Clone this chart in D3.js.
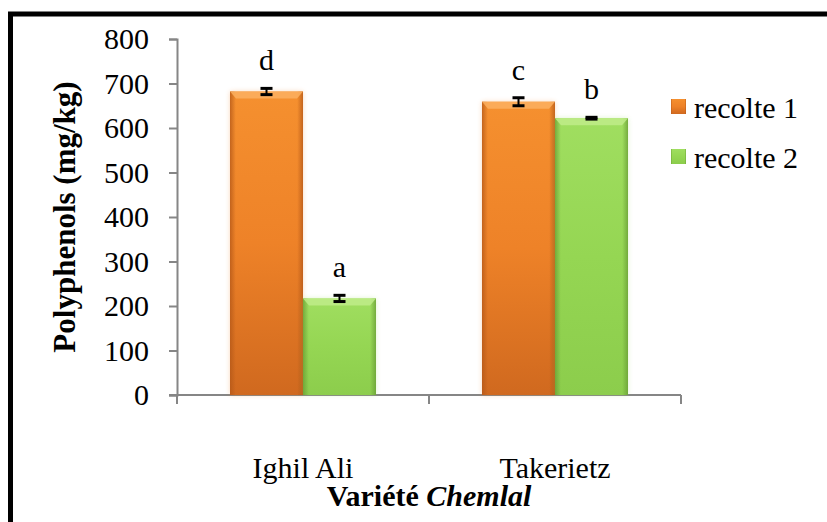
<!DOCTYPE html>
<html>
<head>
<meta charset="utf-8">
<script src="https://cdn.jsdelivr.net/npm/d3@7"></script>
<style>
  html, body { margin: 0; padding: 0; background: #fff; }
  svg { display: block; }
</style>
</head>
<body>
<svg id="chart" width="827" height="522" font-family="Liberation Serif"></svg>
<script>
// Polyphenol content of the Chemlal variety, two harvests
const categories = ["Ighil Ali", "Takerietz"];
const seriesNames = ["recolte 1", "recolte 2"];
const recolte1 = [682, 659];
const recolte2 = [217, 622];
const err1 = [7, 9];
const err2 = [7, 2];
const letters1 = ["d", "c"];
const letters2 = ["a", "b"];
const yTicks = [0, 100, 200, 300, 400, 500, 600, 700, 800];

const FONT = "Liberation Serif";
const svg = d3.select("#chart");
const defs = svg.append("defs");

const plotLeft = 177, plotRight = 681, plotTop = 39, plotBottom = 395;

const x0 = d3.scaleBand().domain(categories).range([plotLeft, plotRight]).padding(0);
const x1 = d3.scaleBand().domain(seriesNames)
  .range([(x0.bandwidth() - 146) / 2, (x0.bandwidth() + 146) / 2]).padding(0);
const y = d3.scaleLinear().domain([0, 800]).range([plotBottom, plotTop]);

const palette = {
  "recolte 1": { top: "#f5902f", mid: "#ee8228", bot: "#d0691f", edge: "#b35718", bevel: "#fbb060" },
  "recolte 2": { top: "#a0de60", mid: "#95d653", bot: "#8ccd4c", edge: "#679c34", bevel: "#c0ec8a" }
};

// gradients: vertical body shading and horizontal edge darkening
seriesNames.forEach((s, i) => {
  const c = palette[s];
  const gv = defs.append("linearGradient").attr("id", "gv" + i)
    .attr("x1", 0).attr("y1", 0).attr("x2", 0).attr("y2", 1);
  gv.append("stop").attr("offset", "0%").attr("stop-color", c.top);
  gv.append("stop").attr("offset", "50%").attr("stop-color", c.mid);
  gv.append("stop").attr("offset", "100%").attr("stop-color", c.bot);
  const gh = defs.append("linearGradient").attr("id", "gh" + i)
    .attr("x1", 0).attr("y1", 0).attr("x2", 1).attr("y2", 0);
  gh.append("stop").attr("offset", "0%").attr("stop-color", c.edge).attr("stop-opacity", 0.75);
  gh.append("stop").attr("offset", "8%").attr("stop-color", c.edge).attr("stop-opacity", 0);
  gh.append("stop").attr("offset", "92%").attr("stop-color", c.edge).attr("stop-opacity", 0);
  gh.append("stop").attr("offset", "100%").attr("stop-color", c.edge).attr("stop-opacity", 0.75);
});
defs.append("filter").attr("id", "glow").attr("x", "-10%").attr("y", "-10%")
  .attr("width", "120%").attr("height", "120%")
  .append("feGaussianBlur").attr("stdDeviation", 2.5);

// outer frame
svg.append("rect").attr("x", 10.5).attr("y", 14).attr("width", 900).attr("height", 600)
  .attr("fill", "none").attr("stroke", "#000").attr("stroke-width", 5);

// y axis
const yAxis = svg.append("g").attr("transform", `translate(${plotLeft},0)`)
  .call(d3.axisLeft(y).tickValues(yTicks).tickSize(8).tickPadding(20).tickFormat(d3.format("d")));
yAxis.attr("font-family", FONT).attr("font-size", 30);
yAxis.select(".domain").attr("stroke", "#868686").attr("stroke-width", 2);
yAxis.selectAll(".tick line").attr("stroke", "#868686").attr("stroke-width", 2);
yAxis.selectAll(".tick text").attr("fill", "#000");

// x axis with category boundary ticks
const xAxis = svg.append("g").attr("transform", `translate(0,${plotBottom})`)
  .attr("font-family", FONT);
xAxis.append("line").attr("x1", plotLeft - 8).attr("x2", plotRight).attr("y1", 0).attr("y2", 0)
  .attr("stroke", "#868686").attr("stroke-width", 2);
const bounds = [plotLeft].concat(categories.map(c => x0(c) + x0.bandwidth()));
xAxis.selectAll("line.tk").data(bounds).join("line").attr("class", "tk")
  .attr("x1", d => d).attr("x2", d => d).attr("y1", 0).attr("y2", 9)
  .attr("stroke", "#868686").attr("stroke-width", 2);
xAxis.selectAll("text").data(categories).join("text")
  .attr("x", d => x0(d) + x0.bandwidth() / 2).attr("y", 83)
  .attr("text-anchor", "middle").attr("font-size", 30).attr("font-family", FONT).text(d => d);

// bars
const rows = categories.map((c, i) => ({
  cat: c,
  vals: [
    { s: seriesNames[0], idx: 0, v: recolte1[i], e: err1[i], l: letters1[i] },
    { s: seriesNames[1], idx: 1, v: recolte2[i], e: err2[i], l: letters2[i] }
  ]
}));

const groups = svg.append("g").selectAll("g").data(rows).join("g")
  .attr("transform", d => `translate(${x0(d.cat)},0)`);

const bars = groups.selectAll("g.bar").data(d => d.vals).join("g").attr("class", "bar");
const bw = x1.bandwidth();

// soft halo
bars.append("rect").attr("x", d => x1(d.s)).attr("y", d => y(d.v))
  .attr("width", bw).attr("height", d => y(0) - y(d.v))
  .attr("fill", d => palette[d.s].mid).attr("opacity", 0.3).attr("filter", "url(#glow)");
bars.append("rect").attr("x", d => x1(d.s)).attr("y", d => y(d.v))
  .attr("width", bw).attr("height", d => y(0) - y(d.v))
  .attr("fill", d => `url(#gv${d.idx})`);
bars.append("rect").attr("x", d => x1(d.s)).attr("y", d => y(d.v))
  .attr("width", bw).attr("height", d => y(0) - y(d.v))
  .attr("fill", d => `url(#gh${d.idx})`);
// bevelled top edge
bars.append("path")
  .attr("d", d => {
    const xa = x1(d.s), ya = y(d.v);
    return `M${xa},${ya}L${xa + bw},${ya}L${xa + bw - 6},${ya + 7}L${xa + 6},${ya + 7}Z`;
  })
  .attr("fill", d => palette[d.s].bevel).attr("opacity", 0.85);

// error bars
const capW = 12;
bars.append("line")
  .attr("x1", d => x1(d.s) + bw / 2).attr("x2", d => x1(d.s) + bw / 2)
  .attr("y1", d => y(d.v + d.e)).attr("y2", d => y(d.v - d.e))
  .attr("stroke", "#000").attr("stroke-width", 2);
bars.selectAll("line.cap").data(d => [d.v + d.e, d.v - d.e].map(v => ({ v, s: d.s }))).join("line")
  .attr("class", "cap")
  .attr("x1", d => x1(d.s) + bw / 2 - capW / 2).attr("x2", d => x1(d.s) + bw / 2 + capW / 2)
  .attr("y1", d => y(d.v)).attr("y2", d => y(d.v))
  .attr("stroke", "#000").attr("stroke-width", 3);

// significance letters
bars.append("text")
  .attr("x", d => x1(d.s) + bw / 2)
  .attr("y", d => y(d.v + d.e) - 18)
  .attr("text-anchor", "middle").attr("font-size", 30).attr("font-family", FONT).text(d => d.l);

// legend
const legend = svg.append("g").attr("transform", "translate(671,99)");
seriesNames.forEach((s, i) => {
  const g = legend.append("g").attr("transform", `translate(0,${i * 50})`);
  g.append("rect").attr("width", 15).attr("height", 15).attr("fill", `url(#gv${i})`);
  g.append("rect").attr("width", 15).attr("height", 15).attr("fill", `url(#gh${i})`);
  g.append("text").attr("x", 23).attr("y", 19).attr("font-size", 30)
    .attr("font-family", FONT).text(s);
});

// axis titles
svg.append("text")
  .attr("transform", `translate(75,${(plotTop + plotBottom) / 2}) rotate(-90)`)
  .attr("text-anchor", "middle").attr("font-size", 31).attr("font-weight", "bold")
  .attr("font-family", FONT)
  .text("Polyphenols (mg/kg)");

const xt = svg.append("text").attr("x", (plotLeft + plotRight) / 2).attr("y", 506)
  .attr("text-anchor", "middle").attr("font-size", 30).attr("font-weight", "bold")
  .attr("font-family", FONT);
xt.append("tspan").text("Variété ");
xt.append("tspan").attr("font-style", "italic").text("Chemlal");
</script>
</body>
</html>
